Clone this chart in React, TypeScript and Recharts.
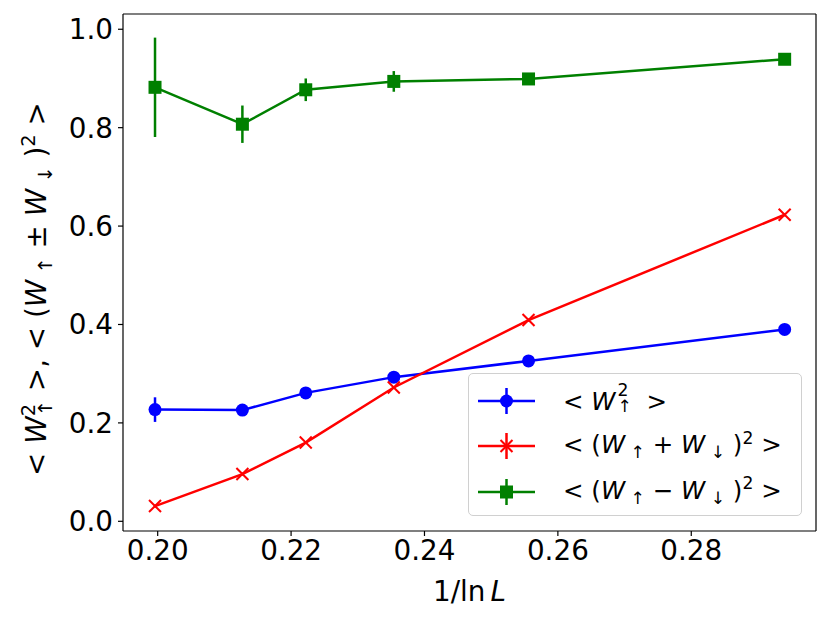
import React from 'react';
import { ComposedChart, Line, XAxis, YAxis, ErrorBar, Legend, Label, ReferenceLine } from 'recharts';

// 1/ln L on the x axis
const xValues = [0.1996, 0.2127, 0.2222, 0.2354, 0.2556, 0.294];

const w2Up = [0.227, 0.226, 0.261, 0.293, 0.326, 0.39];
const w2UpErr = [0.025, 0.004, 0.004, 0.004, 0.003, 0.003];

const sumSq = [0.031, 0.096, 0.16, 0.272, 0.409, 0.623];
const sumSqErr = [0.003, 0.003, 0.003, 0.003, 0.003, 0.003];

const diffSq = [0.882, 0.807, 0.877, 0.894, 0.899, 0.939];
const diffSqErr = [0.101, 0.038, 0.023, 0.021, 0.006, 0.004];

const xTicks = [0.2, 0.22, 0.24, 0.26, 0.28];
const yTicks = [0, 0.2, 0.4, 0.6, 0.8, 1.0];

const data = xValues.map((x, i) => ({
  x,
  w2Up: w2Up[i],
  w2UpErr: w2UpErr[i],
  sumSq: sumSq[i],
  sumSqErr: sumSqErr[i],
  diffSq: diffSq[i],
  diffSqErr: diffSqErr[i],
}));

const BLUE = '#0000ff';
const RED = '#ff0000';
const GREEN = '#008000';
const FONT = '"DejaVu Sans", Verdana, sans-serif';
const X_DOMAIN: [number, number] = [0.1948, 0.2987];
const Y_DOMAIN: [number, number] = [-0.0197, 1.031];

const circleDot = (props: any) => {
  const { cx, cy, index } = props;
  return <circle key={`c${index}`} cx={cx} cy={cy} r={6.5} fill={BLUE} />;
};

const crossDot = (props: any) => {
  const { cx, cy, index } = props;
  const s = 6;
  return (
    <g key={`x${index}`} stroke={RED} strokeWidth={2}>
      <line x1={cx - s} y1={cy - s} x2={cx + s} y2={cy + s} />
      <line x1={cx - s} y1={cy + s} x2={cx + s} y2={cy - s} />
    </g>
  );
};

const squareDot = (props: any) => {
  const { cx, cy, index } = props;
  return <rect key={`s${index}`} x={cx - 6.5} y={cy - 6.5} width={13} height={13} fill={GREEN} />;
};

const it = { fontStyle: 'italic' as const };
const sub = { fontSize: '0.7em', position: 'relative' as const, top: '0.3em' };
const sup = { fontSize: '0.7em', position: 'relative' as const, top: '-0.55em' };

// superscript 2 stacked over a subscript arrow
function Stack() {
  return (
    <span style={{ position: 'relative', display: 'inline-block', width: '0.55em', height: '1em', marginLeft: 2 }}>
      <span style={{ position: 'absolute', left: 0, top: '-0.2em', fontSize: '0.7em', lineHeight: 1 }}>2</span>
      <span style={{ position: 'absolute', left: 0, top: '0.78em', fontSize: '0.7em', lineHeight: 1 }}>↑</span>
    </span>
  );
}

const legendItems = [
  {
    color: BLUE,
    marker: 'circle',
    label: (
      <>
        &lt;&nbsp;<span style={it}>W</span>
        <Stack />
        &nbsp;&nbsp;&gt;
      </>
    ),
  },
  {
    color: RED,
    marker: 'cross',
    label: (
      <>
        &lt;&nbsp;(<span style={it}>W</span>
        <span style={sub}>&nbsp;↑</span>&nbsp;+&nbsp;<span style={it}>W</span>
        <span style={sub}>&nbsp;↓</span>&nbsp;)<span style={sup}>2</span>&nbsp;&gt;
      </>
    ),
  },
  {
    color: GREEN,
    marker: 'square',
    label: (
      <>
        &lt;&nbsp;(<span style={it}>W</span>
        <span style={sub}>&nbsp;↑</span>&nbsp;−&nbsp;<span style={it}>W</span>
        <span style={sub}>&nbsp;↓</span>&nbsp;)<span style={sup}>2</span>&nbsp;&gt;
      </>
    ),
  },
];

function Handle({ color, marker }: { color: string; marker: string }) {
  return (
    <svg width={58} height={28} style={{ position: 'absolute', left: 9, top: -14 }}>
      <line x1={0} y1={14} x2={57} y2={14} stroke={color} strokeWidth={2.5} />
      <line x1={28.5} y1={1} x2={28.5} y2={27} stroke={color} strokeWidth={2.5} />
      {marker === 'circle' && <circle cx={28.5} cy={14} r={6.5} fill={color} />}
      {marker === 'square' && <rect x={22} y={7.5} width={13} height={13} fill={color} />}
      {marker === 'cross' && (
        <g stroke={color} strokeWidth={2}>
          <line x1={22.5} y1={8} x2={34.5} y2={20} />
          <line x1={22.5} y1={20} x2={34.5} y2={8} />
        </g>
      )}
    </svg>
  );
}

function LegendBox() {
  return (
    <div
      style={{
        position: 'relative',
        width: 334,
        height: 143,
        boxSizing: 'border-box',
        border: '1.3px solid #d0d0d0',
        borderRadius: 5,
        background: 'rgba(255,255,255,0.8)',
        fontFamily: FONT,
        fontSize: 24.5,
        color: '#000',
      }}
    >
      {legendItems.map((item, i) => (
        <div key={i} style={{ position: 'absolute', left: 0, top: 27 + i * 45.3, width: '100%' }}>
          <Handle color={item.color} marker={item.marker} />
          <div style={{ position: 'absolute', left: 94, top: -16, whiteSpace: 'nowrap', lineHeight: '30px' }}>
            {item.label}
          </div>
        </div>
      ))}
    </div>
  );
}

function YTitle() {
  const f = 27.8;
  return (
    <text
      transform="translate(46,289) rotate(-90)"
      textAnchor="middle"
      fontFamily={FONT}
      fontSize={f}
      fill="#000"
    >
      <tspan>{'< '}</tspan>
      <tspan fontStyle="italic">W</tspan>
      <tspan fontSize={f * 0.7} dy={-11}>2</tspan>
      <tspan fontSize={f * 0.7} dx={-12.4} dy={17}>↑</tspan>
      <tspan dy={-6}>{' >, < ('}</tspan>
      <tspan fontStyle="italic">W</tspan>
      <tspan fontSize={f * 0.7} dy={6}>{' ↑'}</tspan>
      <tspan dy={-6}>{' ± '}</tspan>
      <tspan fontStyle="italic">W</tspan>
      <tspan fontSize={f * 0.7} dy={6}>{' ↓'}</tspan>
      <tspan dy={-6}>{' )'}</tspan>
      <tspan fontSize={f * 0.7} dy={-11}>2</tspan>
      <tspan dy={11}>{' >'}</tspan>
    </text>
  );
}

function XTitle() {
  return (
    <text x={469.5} y={601} textAnchor="middle" fontFamily={FONT} fontSize={27.8} fill="#000">
      <tspan>1/ln</tspan>
      <tspan fontStyle="italic" dx={5}>L</tspan>
    </text>
  );
}

const tickStyle = { fontFamily: FONT, fontSize: 27.8, fill: '#000' };

export default function App() {
  return (
    <div style={{ position: 'absolute', left: 0, top: 0, background: '#fff' }}>
      <ComposedChart width={830} height={626} data={data} margin={{ top: 14, right: 14, bottom: 0, left: 0 }}>
        <XAxis
          dataKey="x"
          type="number"
          domain={X_DOMAIN}
          allowDataOverflow
          ticks={xTicks}
          tickFormatter={(v: number) => v.toFixed(2)}
          tick={tickStyle}
          tickSize={5}
          tickMargin={4}
          height={95}
          stroke="#000"
          strokeWidth={1.2}
          tickLine={{ stroke: '#000', strokeWidth: 1.2 }}
        >
          <Label content={<XTitle />} />
        </XAxis>
        <YAxis
          type="number"
          domain={Y_DOMAIN}
          allowDataOverflow
          ticks={yTicks}
          tickFormatter={(v: number) => v.toFixed(1)}
          tick={tickStyle}
          tickSize={5}
          tickMargin={5}
          width={123}
          stroke="#000"
          strokeWidth={1.2}
          tickLine={{ stroke: '#000', strokeWidth: 1.2 }}
        >
          <Label content={<YTitle />} />
        </YAxis>
        <ReferenceLine y={Y_DOMAIN[1]} stroke="#000" strokeWidth={1.2} />
        <ReferenceLine x={X_DOMAIN[1]} stroke="#000" strokeWidth={1.2} />
        <Legend
          layout="vertical"
          align="center"
          verticalAlign="middle"
          content={<LegendBox />}
          wrapperStyle={{ left: 468, top: 373, width: 334, height: 143 }}
        />
        <Line
          dataKey="w2Up"
          stroke={BLUE}
          strokeWidth={2.5}
          dot={circleDot}
          activeDot={false}
          isAnimationActive={false}
        >
          <ErrorBar dataKey="w2UpErr" direction="y" width={0} stroke={BLUE} strokeWidth={2.5} />
        </Line>
        <Line
          dataKey="sumSq"
          stroke={RED}
          strokeWidth={2.5}
          dot={crossDot}
          activeDot={false}
          isAnimationActive={false}
        >
          <ErrorBar dataKey="sumSqErr" direction="y" width={0} stroke={RED} strokeWidth={2.5} />
        </Line>
        <Line
          dataKey="diffSq"
          stroke={GREEN}
          strokeWidth={2.5}
          dot={squareDot}
          activeDot={false}
          isAnimationActive={false}
        >
          <ErrorBar dataKey="diffSqErr" direction="y" width={0} stroke={GREEN} strokeWidth={2.5} />
        </Line>
      </ComposedChart>
    </div>
  );
}
